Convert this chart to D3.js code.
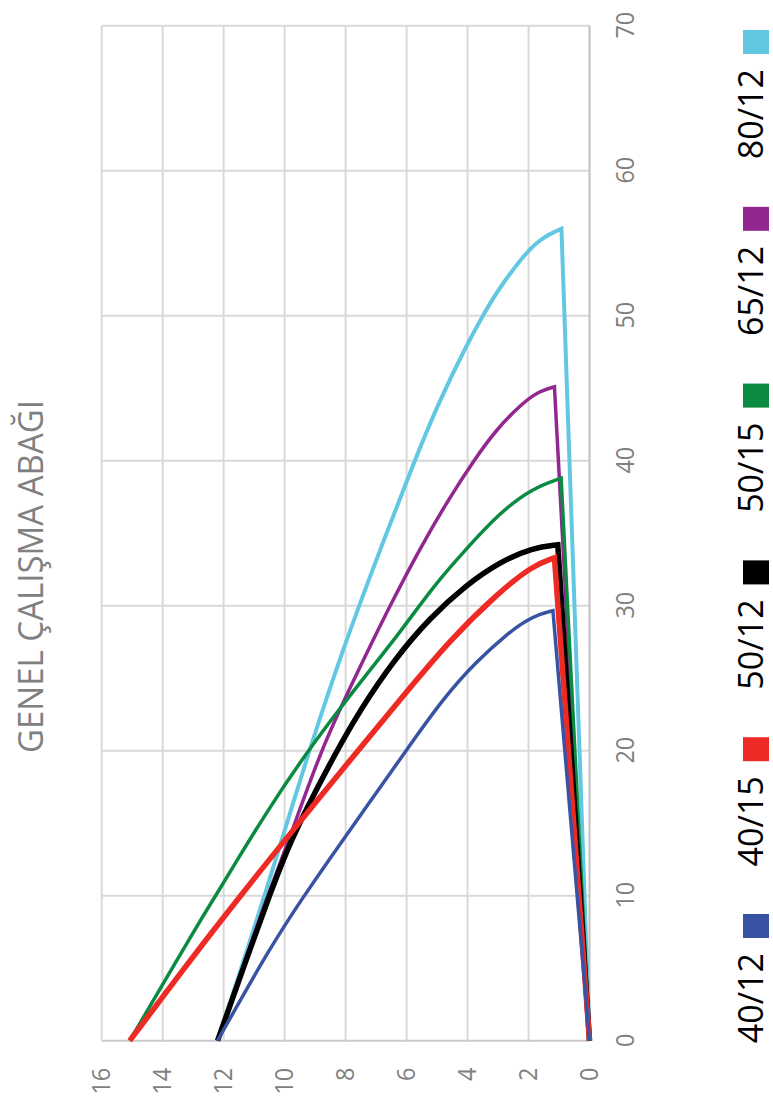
<!DOCTYPE html>
<html><head><meta charset="utf-8">
<script src="https://cdn.jsdelivr.net/npm/d3@7"></script>
<style>body{margin:0;background:#fff;} svg{display:block;}</style>
</head><body>
<script>
// ---------- data ----------
const title = "GENEL ÇALIŞMA ABAĞI";
const seriesNames = ["40/12", "40/15", "50/12", "50/15", "65/12", "80/12"];
const seriesColors = ["#3953a4", "#ee2a24", "#000000", "#0b8a42", "#92278f", "#62c8e2"];
const seriesWidths = [3.5, 5.5, 5.5, 3.5, 3.5, 4];
const xTicks = [0, 10, 20, 30, 40, 50, 60, 70];
const yTicks = [0, 2, 4, 6, 8, 10, 12, 14, 16];

const s40_12 = [[0,12.2],[6.4,10.49],[10,9.36],[12.8,8.44],[16,7.36],[20,6.02],[23.6,4.8],[26.1,3.74],[28.17,2.64],[28.97,2.08],[29.43,1.64],[29.66,1.2],[0,0]];
const s40_15 = [[0,15.08],[6.6,12.72],[10,11.44],[13.3,10.2],[20,7.6],[23.5,6.22],[27.7,4.55],[30.9,2.98],[32.75,1.88],[33.3,1.15],[0,0]];
const s50_12 = [[0,12.2],[6.4,11.12],[10,10.5],[13.3,9.9],[16,9.28],[19.5,8.42],[22.9,7.5],[26.3,6.4],[29.2,5.22],[31.4,4.06],[33.0,2.96],[34.0,1.86],[34.2,1.04],[0,0]];
const s50_15 = [[0,15.08],[8.2,12.8],[10,12.26],[12.1,11.66],[15.8,10.58],[19.2,9.5],[22.2,8.45],[25.2,7.34],[28.2,6.2],[31.4,5.1],[33.9,4.05],[36.4,2.95],[38.1,1.88],[38.8,0.93],[0,0]];
const s65_12 = [[0,12.2],[6.4,11.15],[10,10.56],[13.7,9.88],[20,8.82],[24.6,7.8],[30,6.55],[34,5.55],[37.45,4.59],[40,3.8],[42.15,3.06],[44,2.19],[44.8,1.64],[45.1,1.15],[0,0]];
const s80_12 = [[0,12.2],[6.4,11.2],[13.5,10.14],[20,9.2],[27,8.09],[33.2,6.99],[40,5.74],[44,4.95],[47.9,4.05],[50.2,3.45],[52,2.93],[54.4,2.07],[55.4,1.54],[56,0.92],[0,0]];
const seriesData = [s40_12, s40_15, s50_12, s50_15, s65_12, s80_12];

// ---------- layout (chart is drawn in a 1106x773 frame, then rotated -90deg) ----------
const W = 773, H = 1106;
const FONT = "'Open Sans', 'Noto Sans', sans-serif";
const SQZ = 0.92; // horizontal squeeze of the axis labels seen in the reference

const svg = d3.select("body").append("svg").attr("width", W).attr("height", H);
const g = svg.append("g").attr("transform", `translate(0,${H}) rotate(-90)`);

const x = d3.scaleLinear().domain([0, 70]).range([65.3, 1080.3]);
const y = d3.scaleLinear().domain([0, 16]).range([589.5, 101.7]);

// gridlines
g.append("g").selectAll("line").data(xTicks).join("line")
  .attr("x1", d => x(d)).attr("x2", d => x(d))
  .attr("y1", y(0)).attr("y2", y(16))
  .attr("stroke", d => d === 0 ? "#c8c8c8" : "#d9d9d9").attr("stroke-width", 2);
g.append("g").selectAll("line").data(yTicks).join("line")
  .attr("x1", x(0)).attr("x2", x(70))
  .attr("y1", d => y(d)).attr("y2", d => y(d))
  .attr("stroke", d => d === 0 ? "#c0c0c0" : "#d9d9d9").attr("stroke-width", 2);

// axes (labels only)
const xAxis = g.append("g").attr("transform", `translate(0,${y(0)})`)
  .call(d3.axisBottom(x).tickValues(xTicks).tickSize(0).tickPadding(26));
const yAxis = g.append("g").attr("transform", `translate(${x(0)},0)`)
  .call(d3.axisLeft(y).tickValues(yTicks).tickSize(0).tickPadding(27));
[xAxis, yAxis].forEach(a => {
  a.select(".domain").remove();
  a.selectAll("text").attr("font-family", FONT).attr("font-size", 25.5).attr("fill", "#7f7f7f");
});
xAxis.selectAll("text").attr("transform", `scale(${SQZ},1)`);
yAxis.selectAll("text").attr("x", 0).attr("transform", `translate(-27,0) scale(${SQZ},1)`);

// series lines: smooth rising part, then straight return to the last point
const curveGen = d3.line().x(d => x(d[0])).y(d => y(d[1])).curve(d3.curveBasis);
const order = d3.range(seriesData.length).reverse();
g.append("g").selectAll("path").data(order).join("path")
  .attr("d", i => {
    const pts = seriesData[i];
    const last = pts[pts.length - 1];
    return curveGen(pts.slice(0, -1)) + `L${x(last[0])},${y(last[1])}`;
  })
  .attr("fill", "none")
  .attr("stroke", i => seriesColors[i])
  .attr("stroke-width", i => seriesWidths[i])
  .attr("stroke-linejoin", "miter")
  .attr("stroke-miterlimit", 3);

// title
g.append("text")
  .attr("x", 529.5).attr("y", 43)
  .attr("text-anchor", "middle")
  .attr("font-family", FONT).attr("font-size", 34)
  .attr("fill", "#808080")
  .attr("textLength", 353).attr("lengthAdjust", "spacingAndGlyphs")
  .text(title);

// legend
const legendX = d3.scaleLinear().domain([0, seriesNames.length - 1]).range([180, 1064]);
const leg = g.append("g").selectAll("g").data(seriesNames).join("g")
  .attr("transform", (d, i) => `translate(${legendX(i)},0)`);
leg.append("rect").attr("x", -12).attr("y", 743).attr("width", 24).attr("height", 26)
  .attr("fill", (d, i) => seriesColors[i]);
leg.append("text")
  .attr("x", -27).attr("y", 763)
  .attr("text-anchor", "end")
  .attr("font-family", FONT).attr("font-size", 34)
  .attr("fill", "#000")
  .text(d => d);
</script>
</body></html>
